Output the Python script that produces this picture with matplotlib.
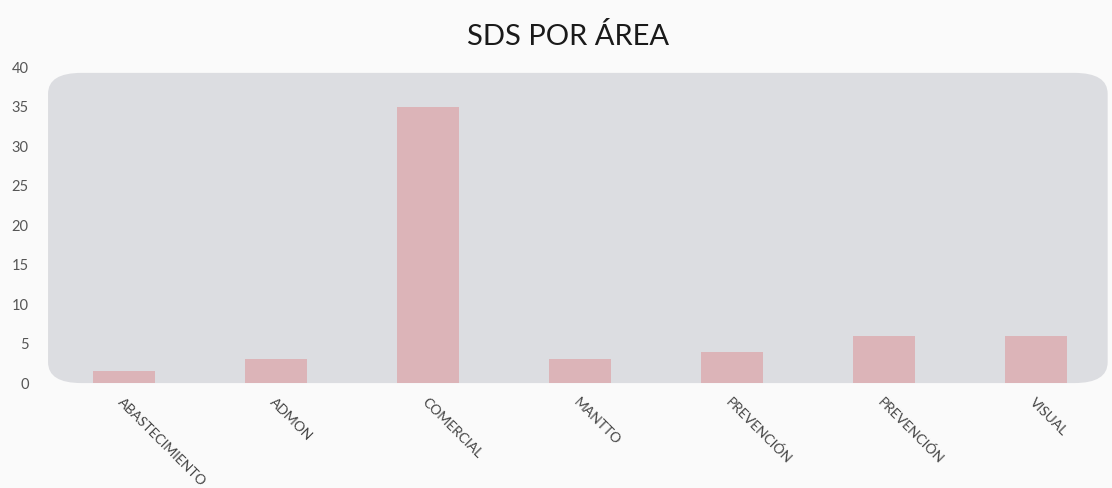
import matplotlib.pyplot as plt
import matplotlib.transforms as mtransforms
from matplotlib.patches import FancyBboxPatch

# data
areas = ["ABASTECIMIENTO", "ADMON", "COMERCIAL", "MANTTO", "PREVENCIÓN", "PREVENCIÓN", "VISUAL"]
sds = [1.5, 3, 35, 3, 4, 6, 6]
yticks = [0, 5, 10, 15, 20, 25, 30, 35, 40]

plt.rcParams['font.family'] = ['Lato', 'DejaVu Sans']

fig = plt.figure(figsize=(11.12, 4.88), dpi=100, facecolor="#fafafa")
ax = fig.add_axes([0.0432, 0.215, 0.957, 0.647])
ax.set_facecolor("#fafafa")

x = list(range(len(areas)))
ax.set_xlim(-0.5, len(areas) - 0.5)
ax.set_ylim(0, 40)

# rounded grey panel behind the bars
panel = FancyBboxPatch((-0.5, 0), len(areas) - 0.03, 39.3,
                       boxstyle="round,pad=0,rounding_size=0.22",
                       mutation_aspect=12, facecolor="#dcdde1", edgecolor="none",
                       zorder=0, clip_on=False)
ax.add_patch(panel)

ax.bar(x, sds, width=0.41, color="#dcb4b8", zorder=2)

ax.set_xticks(x)
ax.set_xticklabels(areas, rotation=-45, ha="left", va="top", rotation_mode="anchor",
                   fontsize=10, color="#444444")
# nudge the slanted labels a bit to the left, like the original
shift = mtransforms.ScaledTranslation(-6 / 100, 0, fig.dpi_scale_trans)
for lbl in ax.get_xticklabels():
    lbl.set_transform(lbl.get_transform() + shift)
ax.set_yticks(yticks)
ax.set_yticklabels([str(t) for t in yticks], fontsize=10.5, color="#555555")
ax.tick_params(length=0)
ax.tick_params(axis="x", pad=9)
ax.tick_params(axis="y", pad=14)
for s in ax.spines.values():
    s.set_visible(False)

fig.text(0.511, 0.925, "SDS POR ÁREA", ha="center", va="center", fontsize=21, color="#1a1a1a")

fig.savefig("out.png", dpi=100, facecolor=fig.get_facecolor())
